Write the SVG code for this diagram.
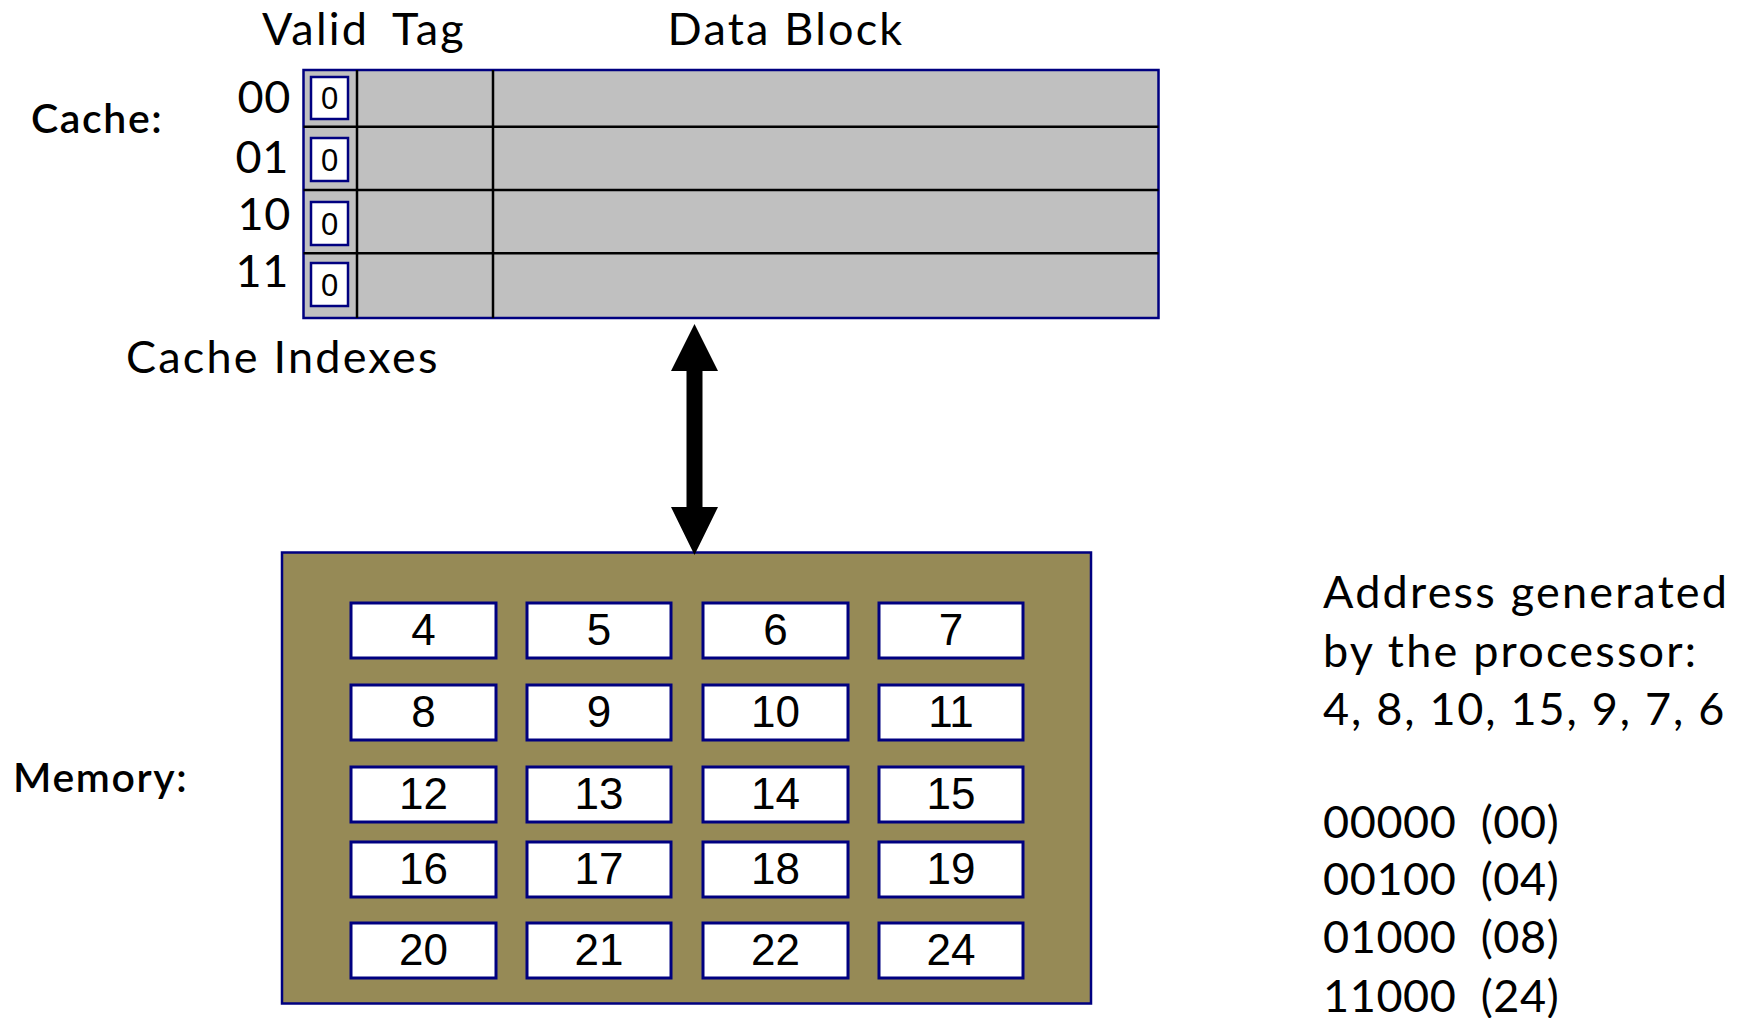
<svg xmlns="http://www.w3.org/2000/svg" width="1737" height="1018" viewBox="0 0 1737 1018">
<style>
.lbl{font-family:"Lato","Noto Sans","Liberation Sans",sans-serif;font-size:45px;fill:#000;letter-spacing:2.2px}
.num{font-family:"Lato","Noto Sans","Liberation Sans",sans-serif;font-size:45px;fill:#000;letter-spacing:0.6px}
.lblm{font-family:"Lato","Noto Sans","Liberation Sans",sans-serif;font-size:41px;font-weight:600;fill:#000;letter-spacing:1.6px}
.vbox{fill:#fff;stroke:#000080;stroke-width:2.5}
.vtxt{font-family:"Liberation Sans",Arial,sans-serif;font-size:31px;fill:#000;text-anchor:middle}
.cell{fill:#fff;stroke:#000080;stroke-width:3}
.ctxt{font-family:"Liberation Sans",Arial,sans-serif;font-size:44px;fill:#000;text-anchor:middle}
.div{stroke:#000;stroke-width:2.5}
</style>
<rect width="1737" height="1018" fill="#fff"/>
<g id="labels">
<text class="lbl" x="262" y="45">Valid</text>
<text class="lbl" x="392" y="45">Tag</text>
<text class="lbl" x="786" y="45" text-anchor="middle">Data Block</text>
<text class="lblm" x="31" y="133">Cache:</text>
<text class="lblm" x="13" y="792">Memory:</text>
<text class="lbl" x="126" y="373">Cache Indexes</text>
<text class="num" x="291" y="113" text-anchor="end">00</text>
<text class="num" x="289" y="173" text-anchor="end">01</text>
<text class="num" x="291" y="230" text-anchor="end">10</text>
<text class="num" x="289" y="287" text-anchor="end">11</text>
</g>
<g id="cache">
<rect x="303.5" y="70" width="855" height="248" fill="#c0c0c0" stroke="#000080" stroke-width="2.5"/>
<line class="div" x1="357" y1="70" x2="357" y2="318"/>
<line class="div" x1="493" y1="70" x2="493" y2="318"/>
<line class="div" x1="303.5" y1="126.7" x2="1158.5" y2="126.7"/>
<line class="div" x1="303.5" y1="190" x2="1158.5" y2="190"/>
<line class="div" x1="303.5" y1="253.3" x2="1158.5" y2="253.3"/>
<g id="valid00"><rect class="vbox" x="311" y="77" width="37" height="42"/><text class="vtxt" x="329.5" y="109">0</text></g>
<g id="valid01"><rect class="vbox" x="311" y="138" width="37" height="43"/><text class="vtxt" x="329.5" y="171">0</text></g>
<g id="valid10"><rect class="vbox" x="311" y="202" width="37" height="43"/><text class="vtxt" x="329.5" y="235">0</text></g>
<g id="valid11"><rect class="vbox" x="311" y="263" width="37" height="43"/><text class="vtxt" x="329.5" y="296">0</text></g>
</g>
<g id="memory">
<rect x="282" y="552.5" width="809" height="451" fill="#968a56" stroke="#000080" stroke-width="2.5"/>
<g id="m4"><rect class="cell" x="351" y="603" width="145" height="55"/><text class="ctxt" x="423.5" y="645">4</text></g>
<g id="m5"><rect class="cell" x="527" y="603" width="144" height="55"/><text class="ctxt" x="599" y="645">5</text></g>
<g id="m6"><rect class="cell" x="703" y="603" width="145" height="55"/><text class="ctxt" x="775.5" y="645">6</text></g>
<g id="m7"><rect class="cell" x="879" y="603" width="144" height="55"/><text class="ctxt" x="951" y="645">7</text></g>
<g id="m8"><rect class="cell" x="351" y="685" width="145" height="55"/><text class="ctxt" x="423.5" y="727">8</text></g>
<g id="m9"><rect class="cell" x="527" y="685" width="144" height="55"/><text class="ctxt" x="599" y="727">9</text></g>
<g id="m10"><rect class="cell" x="703" y="685" width="145" height="55"/><text class="ctxt" x="775.5" y="727">10</text></g>
<g id="m11"><rect class="cell" x="879" y="685" width="144" height="55"/><text class="ctxt" x="951" y="727">11</text></g>
<g id="m12"><rect class="cell" x="351" y="767" width="145" height="55"/><text class="ctxt" x="423.5" y="809">12</text></g>
<g id="m13"><rect class="cell" x="527" y="767" width="144" height="55"/><text class="ctxt" x="599" y="809">13</text></g>
<g id="m14"><rect class="cell" x="703" y="767" width="145" height="55"/><text class="ctxt" x="775.5" y="809">14</text></g>
<g id="m15"><rect class="cell" x="879" y="767" width="144" height="55"/><text class="ctxt" x="951" y="809">15</text></g>
<g id="m16"><rect class="cell" x="351" y="842" width="145" height="55"/><text class="ctxt" x="423.5" y="884">16</text></g>
<g id="m17"><rect class="cell" x="527" y="842" width="144" height="55"/><text class="ctxt" x="599" y="884">17</text></g>
<g id="m18"><rect class="cell" x="703" y="842" width="145" height="55"/><text class="ctxt" x="775.5" y="884">18</text></g>
<g id="m19"><rect class="cell" x="879" y="842" width="144" height="55"/><text class="ctxt" x="951" y="884">19</text></g>
<g id="m20"><rect class="cell" x="351" y="923" width="145" height="55"/><text class="ctxt" x="423.5" y="965">20</text></g>
<g id="m21"><rect class="cell" x="527" y="923" width="144" height="55"/><text class="ctxt" x="599" y="965">21</text></g>
<g id="m22"><rect class="cell" x="703" y="923" width="145" height="55"/><text class="ctxt" x="775.5" y="965">22</text></g>
<g id="m24"><rect class="cell" x="879" y="923" width="144" height="55"/><text class="ctxt" x="951" y="965">24</text></g>
</g>
<g id="connectors">
<polygon points="694.5,324 718,371 702.5,371 702.5,507 718,507 694.5,555 671,507 686.5,507 686.5,371 671,371" fill="#000"/>
</g>
<g id="addresses">
<text class="lbl" x="1323" y="608">Address generated</text>
<text class="lbl" x="1323" y="667">by the processor:</text>
<text class="lbl" x="1323" y="725" style="letter-spacing:1.8px">4, 8, 10, 15, 9, 7, 6</text>
<text class="num" x="1323" y="838" xml:space="preserve">00000  (00)</text>
<text class="num" x="1323" y="895" xml:space="preserve">00100  (04)</text>
<text class="num" x="1323" y="953" xml:space="preserve">01000  (08)</text>
<text class="num" x="1323" y="1012" xml:space="preserve">11000  (24)</text>
</g>
</svg>
